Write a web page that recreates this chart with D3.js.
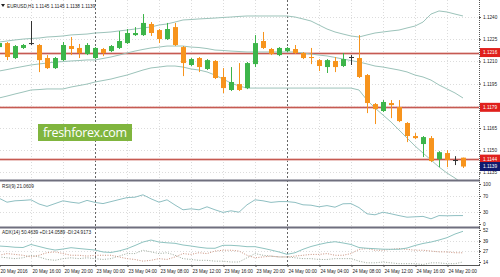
<!DOCTYPE html>
<html>
<head>
<meta charset="utf-8">
<script src="https://cdn.jsdelivr.net/npm/d3@7/dist/d3.min.js"></script>
<style>
  html, body { margin: 0; padding: 0; background: #fff; }
  svg { display: block; font-family: "Liberation Sans", Arial, sans-serif; }
</style>
</head>
<body>
<div id="chart"></div>
<script>
// EURUSD H1, 20 May 12:00 .. 24 May 22:00 (one entry per bar)
const openP  = [1.12197,1.12224,1.12123,1.12191,1.12224,1.12211,1.12123,1.12055,1.12109,1.12204,
                1.12191,1.12150,1.12123,1.12184,1.12170,1.12191,1.12224,1.12278,1.12278,1.12353,
                1.12312,1.12251,1.12332,1.12197,1.12076,1.12123,1.12049,1.12103,1.11995,1.11907,
                1.11947,1.11920,1.12082,1.12238,1.12184,1.12143,1.12170,1.12184,1.12157,1.12130,
                1.12109,1.12062,1.12103,1.12069,1.12130,1.12123,1.12008,1.11812,1.11765,1.11819,
                1.11792,1.11684,1.11596,1.11542,1.11582,1.11440,1.11481,1.11434,1.1145];
const highP  = [1.12231,1.12231,1.12211,1.12218,1.12373,1.12218,1.12143,1.12130,1.12231,1.12265,
                1.12218,1.12224,1.12197,1.12191,1.12211,1.12305,1.12319,1.12332,1.12420,1.12366,
                1.12319,1.12360,1.12360,1.12204,1.12123,1.12130,1.12116,1.12109,1.12055,1.12062,
                1.12089,1.12096,1.12278,1.12299,1.12191,1.12197,1.12197,1.12211,1.12163,1.12191,
                1.12116,1.12116,1.12130,1.12157,1.12143,1.12278,1.12015,1.11819,1.11839,1.11839,
                1.11839,1.11690,1.11616,1.11596,1.11596,1.11494,1.11501,1.11460,1.1145];
const lowP   = [1.12191,1.12109,1.12116,1.12184,1.12211,1.12028,1.12049,1.12049,1.12103,1.12143,
                1.12123,1.12143,1.12116,1.12136,1.12163,1.12184,1.12218,1.12272,1.12272,1.12272,
                1.12224,1.12245,1.12204,1.12001,1.12069,1.12028,1.12042,1.11981,1.11886,1.11900,
                1.11900,1.11913,1.12062,1.12184,1.12143,1.12136,1.12163,1.12150,1.12116,1.12082,
                1.12035,1.12022,1.12028,1.12062,1.12076,1.11988,1.11751,1.11677,1.11758,1.11717,
                1.11690,1.11555,1.11575,1.11454,1.11420,1.11386,1.11386,1.11400,1.1138];
const closeP = [1.12224,1.12130,1.12204,1.12211,1.12224,1.12109,1.12055,1.12123,1.12211,1.12184,
                1.12157,1.12211,1.12191,1.12157,1.12204,1.12238,1.12292,1.12292,1.12360,1.12292,
                1.12251,1.12319,1.12211,1.12089,1.12116,1.12062,1.12109,1.11988,1.11920,1.11961,
                1.11907,1.12089,1.12224,1.12191,1.12150,1.12191,1.12191,1.12157,1.12123,1.12123,
                1.12069,1.12109,1.12062,1.12116,1.12130,1.11995,1.11819,1.11778,1.11826,1.11805,
                1.11697,1.11596,1.11582,1.11589,1.11427,1.11487,1.11434,1.11434,1.1139];

// Bollinger bands
const bbUpper  = [1.12231,1.12238,1.12245,1.12251,1.12255,1.12258,1.12265,1.12268,1.12272,1.12279,
                  1.12282,1.12285,1.12292,1.12295,1.12299,1.12306,1.12312,1.12319,1.12326,1.12333,
                  1.12346,1.12353,1.12366,1.12380,1.12383,1.12387,1.12390,1.12393,1.12397,1.12400,
                  1.12404,1.12407,1.12407,1.12407,1.12407,1.12407,1.12407,1.12400,1.12387,1.12373,
                  1.12346,1.12319,1.12299,1.12285,1.12272,1.12265,1.12279,1.12292,1.12299,1.12306,
                  1.12312,1.12326,1.12339,1.12366,1.12420,1.12441,1.12434,1.12420,1.12407];
const bbMiddle = [1.12035,1.12045,1.12056,1.12066,1.12076,1.12083,1.12089,1.12096,1.12099,1.12103,
                  1.12106,1.12110,1.12110,1.12120,1.12130,1.12143,1.12157,1.12170,1.12181,1.12191,
                  1.12197,1.12204,1.12204,1.12204,1.12197,1.12194,1.12187,1.12177,1.12174,1.12170,
                  1.12167,1.12164,1.12164,1.12164,1.12164,1.12164,1.12164,1.12164,1.12157,1.12150,
                  1.12143,1.12137,1.12127,1.12116,1.12106,1.12096,1.12083,1.12069,1.12062,1.12052,
                  1.12042,1.12029,1.12008,1.11995,1.11974,1.11941,1.11914,1.11887,1.11853];
const bbLower  = [1.11853,1.11866,1.11880,1.11893,1.11907,1.11910,1.11914,1.11914,1.11914,1.11927,
                  1.11937,1.11947,1.11961,1.11971,1.11981,1.11995,1.12008,1.12025,1.12042,1.12056,
                  1.12062,1.12069,1.12069,1.12062,1.12049,1.12042,1.12029,1.12008,1.11981,1.11954,
                  1.11934,1.11920,1.11920,1.11920,1.11920,1.11920,1.11920,1.11920,1.11920,1.11920,
                  1.11920,1.11920,1.11920,1.11920,1.11920,1.11907,1.11839,1.11785,1.11738,1.11691,
                  1.11637,1.11583,1.11529,1.11481,1.11434,1.11387,1.11346,1.11312,1.11272];

// RSI(9)
const rsi = [64.5,54.5,58,59,60.5,50,44,51,58,54.5,52,59,54,51,56,61,66,67,73,63,
             54.5,60.5,47.5,35.5,38,35.5,43,35.5,29,33,29.5,48,60.5,58,54,56,56,54,48,47,
             43,46,42,50.5,51,41,25.5,23,29.5,25.5,21,17,18,19,13,21,20.5,21,21.06];

// ADX(14)
const adx = [33,32.4,31.5,31.2,34.8,32.4,30,28.2,29.4,31,30,29.1,28.2,25.9,25.3,27.1,29.8,33.6,37.7,40.1,
             37.7,36.8,36.2,34.2,33,31.5,30.4,30.3,33.8,33.8,33.2,32.2,32.2,30.3,28.2,25.9,23.1,25,29.1,32.4,
             34.8,36.9,38.1,36.6,34.8,31.2,30.3,29.8,29.2,29.1,29.1,30.6,33.6,36,37.7,40.1,42.9,47.2,50.46];
const plusDI  = [20,19,18,19,22,20,17,16,18,19,18,19,18,17,18,21,24,24,28,26,
                 24,25,22,18,17,16,16,15,15,14,14,19,24,22,21,20,20,19,18,18,
                 17,17,18,18,18,15,13,13,14,13,12,12,12,11,13,13,12,12,14.06];
const minusDI = [22,24,23,22,20,22,25,26,24,22,22,21,22,22,22,20,18,17,15,16,
                 18,17,20,24,23,25,24,27,28,28,27,22,19,20,21,20,20,21,22,23,
                 23,24,22,22,24,29,30,28,28,29,30,29,28,28,27,26,26,25,24.92];

// axes
const priceTicks = [1.1240, 1.1225, 1.1210, 1.1195, 1.1180, 1.1165, 1.1150, 1.1135];
const levels = [1.1216, 1.1179, 1.1144];
const lastPrice = 1.1139;
const rsiTicks = [100, 70, 30, 0];
const adxTicks = [52, 39, 27, 14];
const tickIdx = [0, 4, 8, 12, 16, 20, 24, 28, 32, 36, 40, 44, 48, 52, 56];
const tickLabels = ["20 May 2016", "20 May 16:00", "20 May 20:00", "23 May 00:00", "23 May 04:00",
                    "23 May 08:00", "23 May 12:00", "23 May 16:00", "23 May 20:00", "24 May 00:00",
                    "24 May 04:00", "24 May 08:00", "24 May 12:00", "24 May 16:00", "24 May 20:00"];
const daySplits = [12, 36];

const W = 500, H = 277, plotR = 479;
const fs = 4.7;
const green = "#3db54a", orange = "#f7941d";

const svg = d3.select("#chart").append("svg").attr("width", W).attr("height", H);

// scales
const x = d3.scaleLinear().domain([0, 58]).range([-1, 463]);
const y = d3.scaleLinear().domain([1.12515, 1.11299]).range([0, 180]);
const yR = d3.scaleLinear().domain([0, 100]).range([224, 184]);
const yA = d3.scaleLinear().domain([14, 52]).range([262, 230]);

// clip paths for panels
const defs = svg.append("defs");
[["cMain", 0, 180], ["cRsi", 182, 227], ["cAdx", 229, 265]].forEach(([id, t, b]) => {
    defs.append("clipPath").attr("id", id).append("rect")
        .attr("x", 0).attr("y", t).attr("width", plotR).attr("height", b - t);
});

// grid
const grid = svg.append("g").attr("stroke", "#dcdcdc").attr("stroke-dasharray", "1,2");
priceTicks.forEach(p => grid.append("line").attr("x1", 0).attr("x2", plotR)
    .attr("y1", Math.round(y(p)) + 0.5).attr("y2", Math.round(y(p)) + 0.5));
[70, 30].forEach(v => grid.append("line").attr("x1", 0).attr("x2", plotR)
    .attr("y1", Math.round(yR(v)) + 0.5).attr("y2", Math.round(yR(v)) + 0.5));
[39, 27].forEach(v => grid.append("line").attr("x1", 0).attr("x2", plotR)
    .attr("y1", Math.round(yA(v)) + 0.5).attr("y2", Math.round(yA(v)) + 0.5));
tickIdx.filter(i => !daySplits.includes(i)).forEach(i => grid.append("line")
    .attr("x1", x(i) + 0.5).attr("x2", x(i) + 0.5).attr("y1", 0).attr("y2", 265));

// day separators
daySplits.forEach(i => svg.append("line")
    .attr("x1", x(i) + 0.5).attr("x2", x(i) + 0.5).attr("y1", 0).attr("y2", 265)
    .attr("stroke", "#666").attr("stroke-dasharray", "2,2"));

// support / resistance levels
const lv = svg.append("g");
levels.forEach(p => {
    const yy = Math.round(y(p)) + 0.5;
    lv.append("line").attr("x1", 0).attr("x2", plotR).attr("y1", yy).attr("y2", yy)
        .attr("stroke", "#e6b4b0").attr("stroke-width", 2.5);
    lv.append("line").attr("x1", 0).attr("x2", plotR).attr("y1", yy).attr("y2", yy)
        .attr("stroke", "#c65a52").attr("stroke-width", 1);
});

// bollinger bands
const mainG = svg.append("g").attr("clip-path", "url(#cMain)");
const bandLine = arr => d3.line().x((d, i) => x(i)).y(d => y(d))(arr);
[bbUpper, bbMiddle, bbLower].forEach(arr => mainG.append("path")
    .attr("d", bandLine(arr)).attr("fill", "none").attr("stroke", "#9cc3ba").attr("stroke-width", 1));

// candles
const idx = d3.range(openP.length);
const candles = mainG.selectAll(".c").data(idx).enter().append("g");
const col = i => closeP[i] > openP[i] ? green : (closeP[i] < openP[i] ? orange : "#333");
candles.append("rect")
    .attr("x", i => x(i)).attr("width", 1)
    .attr("y", i => y(highP[i])).attr("height", i => Math.max(1, y(lowP[i]) - y(highP[i])))
    .attr("fill", col);
candles.append("rect")
    .attr("x", i => x(i) - 2).attr("width", 5)
    .attr("y", i => y(Math.max(openP[i], closeP[i])))
    .attr("height", i => Math.max(1, Math.abs(y(openP[i]) - y(closeP[i]))))
    .attr("fill", col);

// watermark
svg.append("rect").attr("x", 38).attr("y", 124).attr("width", 94).attr("height", 17).attr("fill", "#80b53e");
svg.append("text").attr("x", 85).attr("y", 137).attr("text-anchor", "middle")
    .attr("font-family", "'Open Sans', sans-serif").attr("font-size", 12.5)
    .attr("textLength", 84).attr("fill", "#fff").text("freshforex.com");

// RSI
svg.append("path").attr("clip-path", "url(#cRsi)")
    .attr("d", d3.line().x((d, i) => x(i)).y(d => yR(d))(rsi))
    .attr("fill", "none").attr("stroke", "#8fbfc2").attr("stroke-width", 1);

// ADX
const adxG = svg.append("g").attr("clip-path", "url(#cAdx)");
adxG.append("path").attr("d", d3.line().x((d, i) => x(i)).y(d => yA(d))(plusDI))
    .attr("fill", "none").attr("stroke", "#9aa89a").attr("stroke-dasharray", "1,1.5");
adxG.append("path").attr("d", d3.line().x((d, i) => x(i)).y(d => yA(d))(minusDI))
    .attr("fill", "none").attr("stroke", "#c8907c").attr("stroke-dasharray", "1,1.5");
adxG.append("path").attr("d", d3.line().x((d, i) => x(i)).y(d => yA(d))(adx))
    .attr("fill", "none").attr("stroke", "#8fc3c0").attr("stroke-width", 1);

// panel separators and borders
[180.5, 227.5].forEach(yy => svg.append("line").attr("x1", 0).attr("x2", plotR + 1)
    .attr("y1", yy).attr("y2", yy).attr("stroke", "#6f6f7e").attr("stroke-width", 2));
svg.append("line").attr("x1", 0).attr("x2", plotR + 1).attr("y1", 265.5).attr("y2", 265.5).attr("stroke", "#555");
svg.append("line").attr("x1", plotR + 0.5).attr("x2", plotR + 0.5).attr("y1", 0).attr("y2", 266)
    .attr("stroke", "#555").attr("stroke-dasharray", "1,1");

// axes
function styleAxis(g) {
    g.select(".domain").remove();
    g.selectAll(".tick line").attr("stroke", "#555");
    g.selectAll(".tick text").attr("font-size", fs).attr("fill", "#222").attr("font-family", "'Liberation Sans', Arial, sans-serif");
}
svg.append("g").attr("transform", `translate(${plotR},0)`)
    .call(d3.axisRight(y).tickValues(priceTicks).tickSize(2).tickPadding(2).tickFormat(d3.format(".4f")))
    .call(styleAxis);
svg.append("g").attr("transform", `translate(${plotR},0)`)
    .call(d3.axisRight(yR).tickValues(rsiTicks).tickSize(2).tickPadding(2))
    .call(styleAxis);
svg.append("g").attr("transform", `translate(${plotR},0)`)
    .call(d3.axisRight(yA).tickValues(adxTicks).tickSize(2).tickPadding(2))
    .call(styleAxis);
const xAx = svg.append("g").attr("transform", "translate(0,265)")
    .call(d3.axisBottom(x).tickValues(tickIdx).tickSize(2).tickPadding(3).tickFormat((d, i) => tickLabels[i]))
    .call(styleAxis);
xAx.selectAll(".tick line").attr("transform", "translate(0.5,0)");
xAx.selectAll(".tick text").attr("text-anchor", "start").attr("dx", 1);

// price tags on the right
function tag(p, fill) {
    const yy = y(p);
    svg.append("rect").attr("x", plotR + 1).attr("y", yy - 4.5).attr("width", W - plotR - 1).attr("height", 9).attr("fill", fill);
    svg.append("text").attr("x", plotR + 4).attr("y", yy + 1.6).attr("font-size", fs).attr("fill", "#fff")
        .text(d3.format(".4f")(p));
}
levels.forEach(p => tag(p, "#e0201c"));
tag(lastPrice, "#101a6e");

// headers
svg.append("path").attr("d", "M1,4 L5,4 L3,7 Z").attr("fill", "#222");
svg.append("text").attr("x", 7).attr("y", 7.5).attr("font-size", fs).attr("fill", "#222")
    .text("EURUSD,H1  1.1145 1.1145 1.1138 1.1139");
svg.append("text").attr("x", 2).attr("y", 188).attr("font-size", fs).attr("fill", "#222")
    .text("RSI(9) 21.0609");
svg.append("text").attr("x", 2).attr("y", 234).attr("font-size", fs).attr("fill", "#222")
    .text("ADX(14) 50.4639 +DI:14.0589 -DI:24.9173");
</script>
</body>
</html>
